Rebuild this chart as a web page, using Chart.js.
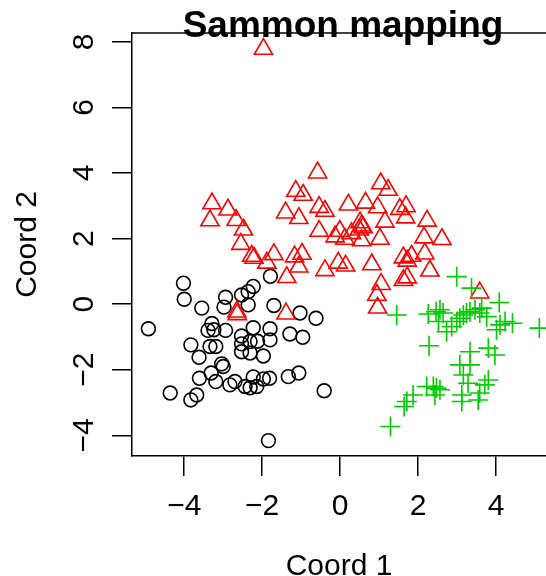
<!DOCTYPE html>
<html>
<head>
<meta charset="utf-8">
<script src="https://cdn.jsdelivr.net/npm/chart.js@4/dist/chart.umd.min.js"></script>
<style>
body{margin:0;background:#fff}
#wrap{width:546px;height:576px}
</style>
</head>
<body>
<div id="wrap"><canvas id="grafica" width="546" height="576"></canvas></div>
<script>
// TEXTOS
const titulo = "Sammon mapping";
const xTitulo = "Coord 1";
const yTitulo = "Coord 2";

// EJES
const xTicks = [-4, -2, 0, 2, 4];
const yTicks = [-4, -2, 0, 2, 4, 6, 8];
const xLim = [-5.34, 5.28];
const yLim = [-4.63, 8.27];

// setosa (circulos negros)
const setosaX = [-4.02,-4.00,-3.55,-2.94,-2.98,-2.53,-2.36,-2.23,-2.36,-1.79,
  -1.70,-1.03,-0.62,-4.92,-3.29,-3.39,-3.24,-2.94,-2.23,-1.80,
  -1.29,-0.96,-3.83,-3.34,-3.19,-2.53,-2.53,-2.31,-2.12,-1.80,
  -2.53,-2.31,-1.97,-3.62,-3.04,-3.00,-3.31,-3.61,-3.19,-2.83,
  -2.70,-2.44,-2.31,-2.23,-2.14,-1.97,-1.81,-1.33,-1.06,-0.41,
  -4.36,-3.68,-3.83,-1.84];
const setosaY = [0.64,0.15,-0.12,0.21,-0.09,0.28,0.38,0.54,-0.02,0.85,
  -0.04,-0.27,-0.43,-0.75,-0.59,-0.80,-0.78,-0.80,-0.72,-0.75,
  -0.91,-1.01,-1.24,-1.29,-1.29,-0.97,-1.21,-1.14,-1.13,-1.09,
  -1.45,-1.49,-1.58,-1.62,-1.82,-1.90,-2.10,-2.26,-2.36,-2.46,
  -2.36,-2.51,-2.55,-2.22,-2.51,-2.28,-2.26,-2.21,-2.10,-2.64,
  -2.71,-2.77,-2.92,-4.16];

// versicolor (triangulos rojos)
const versiX = [-1.97,-3.29,-3.34,-2.88,-2.67,-2.48,-2.55,-2.27,-2.21,-1.88,
  -1.70,-1.17,-0.98,-1.06,-1.37,-0.39,-0.58,-1.14,-0.95,-1.40,
  -1.06,-0.54,-0.39,-0.54,-2.65,-2.64,-1.39,1.04,1.23,0.21,
  0.65,0.96,1.53,1.69,1.68,1.15,2.23,0.51,0.55,0.49,
  0.59,-0.01,-0.13,0.12,0.29,0.55,1.02,2.15,2.61,-0.05,
  0.14,0.81,1.62,1.72,1.83,2.17,2.30,1.62,1.72,1.05,
  0.94,0.96,3.58];
const versiY = [7.78,3.07,2.55,2.88,2.56,2.27,1.83,1.47,1.41,1.26,
  1.52,1.45,1.53,1.14,0.82,1.03,4.01,3.45,3.33,2.79,
  2.62,2.96,2.84,2.23,-0.23,-0.31,-0.29,3.68,3.48,3.03,
  3.09,2.95,2.90,2.98,2.64,2.51,2.54,2.49,2.39,2.27,
  2.34,2.23,2.06,1.99,2.16,1.94,1.99,2.03,1.98,1.26,
  1.17,1.21,1.42,1.32,1.47,1.54,1.02,0.73,0.81,0.61,
  0.28,-0.11,0.35];

// virginica (cruces verdes)
const virgX = [2.99,3.37,4.08,1.45,2.26,2.46,2.56,2.64,2.86,3.07,
  3.16,3.24,3.33,3.46,3.58,3.63,3.76,4.01,4.10,4.23,
  4.42,5.11,2.28,3.33,3.80,3.97,3.07,3.33,3.16,3.80,
  3.28,2.22,2.39,2.47,2.56,2.43,3.12,3.58,3.54,3.12,
  1.71,1.87,1.64,1.29,2.52,2.73,3.71,2.99];
const virgY = [0.84,0.49,0.05,-0.33,-0.30,-0.23,-0.17,-0.27,-0.68,-0.43,
  -0.33,-0.27,-0.23,-0.17,-0.27,-0.12,-0.38,-0.78,-0.63,-0.53,
  -0.58,-0.73,-1.27,-1.45,-1.34,-1.55,-1.85,-1.85,-2.16,-2.31,
  -2.41,-2.51,-2.51,-2.56,-2.61,-2.77,-2.77,-2.71,-2.92,-2.97,
  -2.97,-2.77,-3.12,-3.73,-0.53,-0.84,-2.46,-0.53];


function puntos(xs, ys){
  return xs.map((x, i) => ({x: x, y: ys[i]}));
}

function etiqueta(v){
  return v < 0 ? "\u2212" + Math.abs(v) : String(v);
}

const fuente = "'Liberation Sans', Arial, Helvetica, sans-serif";

// marco superior y titulo
const marcoYTitulo = {
  id: "marcoYTitulo",
  afterDraw(chart){
    const ctx = chart.ctx;
    const a = chart.chartArea;
    ctx.save();
    ctx.strokeStyle = "#000";
    ctx.lineWidth = 1.5;
    ctx.beginPath();
    ctx.moveTo(a.left, a.top);
    ctx.lineTo(a.right, a.top);
    ctx.stroke();
    ctx.fillStyle = "#000";
    ctx.font = "bold 37px " + fuente;
    ctx.textAlign = "center";
    ctx.textBaseline = "alphabetic";
    ctx.fillText(titulo, 343, 37);
    ctx.restore();
  }
};

const micanvas = document.getElementById("grafica").getContext("2d");
const grafica = new Chart(micanvas, {
  type: "scatter",
  data: {
    datasets: [
      {
        label: "setosa",
        data: puntos(setosaX, setosaY),
        pointStyle: "circle",
        pointRadius: 6.9,
        pointBorderWidth: 1.6,
        borderColor: "#000000",
        backgroundColor: "rgba(0,0,0,0)",
        order: 3
      },
      {
        label: "versicolor",
        data: puntos(versiX, versiY),
        pointStyle: "triangle",
        pointRadius: 10.5,
        pointBorderWidth: 1.6,
        borderColor: "#FF0000",
        backgroundColor: "rgba(0,0,0,0)",
        order: 2
      },
      {
        label: "virginica",
        data: puntos(virgX, virgY),
        pointStyle: "cross",
        pointRadius: 10,
        pointBorderWidth: 1.6,
        borderColor: "#00CD00",
        backgroundColor: "rgba(0,0,0,0)",
        order: 1
      }
    ]
  },
  options: {
    responsive: false,
    animation: false,
    devicePixelRatio: 1,
    layout: {autoPadding: false, padding: {top: 33, right: 0, left: 0, bottom: 0}},
    plugins: {
      legend: {display: false},
      title: {display: false},
      tooltip: {enabled: false}
    },
    scales: {
      x: {
        type: "linear",
        min: xLim[0],
        max: xLim[1],
        afterBuildTicks: s => { s.ticks = xTicks.map(v => ({value: v})); },
        afterFit: s => { s.height = 120; s.paddingLeft = 0; s.paddingRight = 0; },
        border: {display: true, color: "#000", width: 1.5},
        grid: {drawOnChartArea: false, drawTicks: true, tickLength: 20, color: "#000", lineWidth: 1.5},
        ticks: {
          color: "#000",
          font: {family: fuente, size: 30},
          padding: 13,
          maxRotation: 0,
          callback: v => etiqueta(v)
        },
        title: {
          display: true,
          text: xTitulo,
          color: "#000",
          font: {family: fuente, size: 30, lineHeight: 1.2},
          padding: {top: 0, bottom: -9}
        }
      },
      y: {
        type: "linear",
        min: yLim[0],
        max: yLim[1],
        afterBuildTicks: s => { s.ticks = yTicks.map(v => ({value: v})); },
        afterFit: s => { s.width = 132; s.paddingTop = 0; s.paddingBottom = 0; },
        border: {display: true, color: "#000", width: 1.5},
        grid: {drawOnChartArea: false, drawTicks: true, tickLength: 20, color: "#000", lineWidth: 1.5},
        ticks: {
          color: "#000",
          font: {family: fuente, size: 30},
          padding: 10,
          minRotation: 90,
          maxRotation: 90,
          crossAlign: "center",
          callback: v => etiqueta(v)
        },
        title: {
          display: true,
          text: yTitulo,
          color: "#000",
          font: {family: fuente, size: 30, lineHeight: 1.2},
          padding: {top: 10, bottom: 0}
        }
      }
    }
  },
  plugins: [marcoYTitulo]
});
</script>
</body>
</html>
